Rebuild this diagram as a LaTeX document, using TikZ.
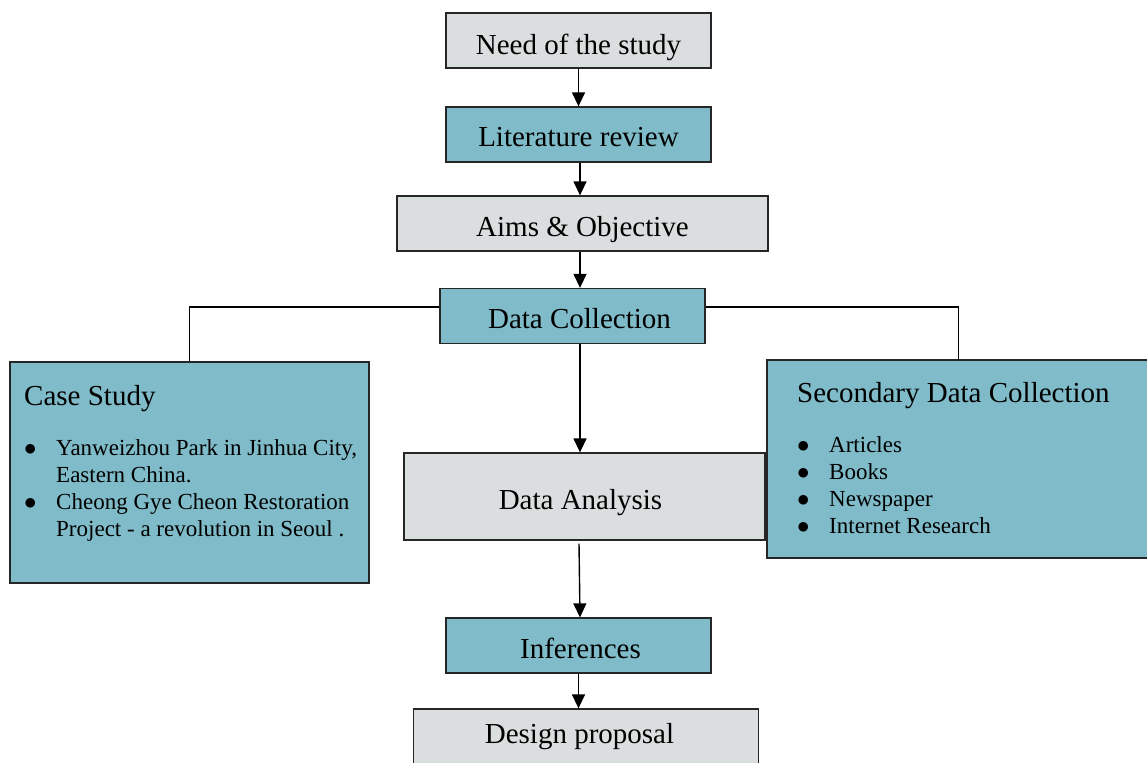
\documentclass[tikz,border=0pt]{standalone}
\usepackage{fontspec}
\setmainfont{Liberation Serif}
\usetikzlibrary{arrows.meta, positioning}
\definecolor{boxgray}{HTML}{DBDEDF}
\definecolor{boxteal}{HTML}{7FBBC8}

\begin{document}
\begin{tikzpicture}[x=1pt, y=-1pt,
  box/.style={draw=black!85, line width=1.3pt, inner sep=0pt, text height=25pt, text depth=0pt,
    font=\fontsize{29}{34}\selectfont},
  grey/.style={box, fill=boxgray},
  teal/.style={box, fill=boxteal},
  arr/.style={-{Triangle[length=14pt, width=13pt]}, line width=1.4pt},
  head/.style={font=\fontsize{29}{34}\selectfont, inner sep=0pt, anchor=base west},
  lst/.style={font=\fontsize{23}{27}\selectfont, inner sep=0pt, anchor=base west}]
\useasboundingbox (0,0) rectangle (1147,762);
% main column
\node[grey, minimum width=265, minimum height=55, text height=29pt] (need) at (578.5,40.5) {Need of the study};
\node[teal, minimum width=265, minimum height=55] (lit) at (578.5,134.5) {Literature review};
\node[grey, minimum width=371, minimum height=55] (aims) at (582.5,223.5) {Aims \& Objective};
\node[teal, minimum width=265, minimum height=55] (dc) at (572.5,316) {\hspace*{14pt}Data Collection};
\node[grey, minimum width=361, minimum height=87] (da) at (584.5,496.5) {Data Analysis\hspace*{8pt}};
\node[teal, minimum width=265, minimum height=55] (inf) at (578.5,645.5) {\hspace*{4pt}Inferences};
\node[grey, minimum width=345, minimum height=57, text height=11pt] (dp) at (586,737.5) {Design proposal\hspace*{13pt}};
% side boxes
\node[teal, minimum width=359, minimum height=221] (cs) at (189.5,472.5) {};
\node[teal, minimum width=383, minimum height=198] (sec) at (958.5,459) {};
\node[head] (cstitle) at (24,405) {Case Study};
\node[lst] (cslist) at (24,455) {\begin{tabular}[t]{@{}p{32pt}@{}l@{}}
  $\bullet$ & Yanweizhou Park in Jinhua City,\\
            & Eastern China.\\
  $\bullet$ & Cheong Gye Cheon Restoration\\
            & Project - a revolution in Seoul .
\end{tabular}};
\node[head] (sectitle) at (797,402) {Secondary Data Collection};
\node[lst] (seclist) at (797,452) {\begin{tabular}[t]{@{}p{32pt}@{}l@{}}
  $\bullet$ & Articles\\
  $\bullet$ & Books\\
  $\bullet$ & Newspaper\\
  $\bullet$ & Internet Research
\end{tabular}};
% connectors
\draw[arr] (need.south) -- (lit.north);
\draw[arr] ([xshift=1.5pt]lit.south) -- ([xshift=1.5pt]lit.south |- aims.north);
\draw[arr] ([xshift=-2.5pt]aims.south) -- ([xshift=-2.5pt]aims.south |- dc.north);
\draw[arr] ([xshift=7.5pt]dc.south) -- ([xshift=7.5pt]dc.south |- da.north);
\draw[arr] ([xshift=-5.5pt, yshift=-3pt]da.south) -- ([xshift=1.5pt]inf.north);
\draw[arr] (inf.south) -- (inf.south |- dp.north);
\draw[line width=1.2pt] ([yshift=9pt]dc.west) -| (cs.north);
\draw[line width=1.2pt] ([yshift=9pt]dc.east) -| (sec.north);
\end{tikzpicture}
\end{document}
